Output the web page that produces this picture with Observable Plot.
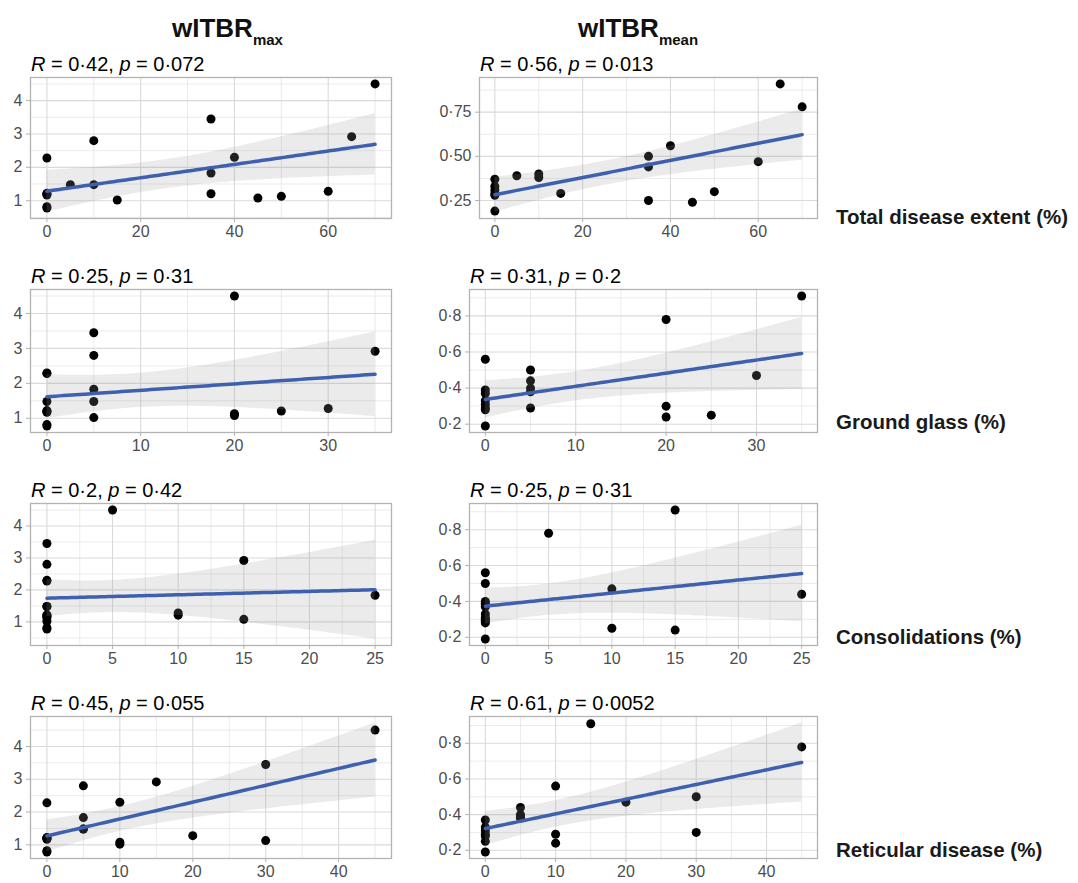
<!DOCTYPE html>
<html><head><meta charset="utf-8">
<script src="https://cdn.jsdelivr.net/npm/d3@7"></script>
<script src="https://cdn.jsdelivr.net/npm/@observablehq/plot@0.6"></script>
<style>
body{margin:0;background:#fff;font-family:"Liberation Sans",Arial,sans-serif;}
#fig{position:relative;width:1078px;height:883px;overflow:hidden;background:#fff;}
#overlay{left:0;top:0;pointer-events:none;}
</style></head><body><div id="fig"></div>
<script>
// ---- data (one entry per patient) ----
const totalExtent    = [70, 65, 60, 50, 45, 40, 35, 35, 35, 15, 10, 10, 5, 0, 0, 0, 0, 0, 0];
const groundGlass    = [20, 35, 30, 20, 20, 0, 5, 5, 25, 5, 5, 5, 0, 0, 0, 0, 0, 0, 0];
const consolidations = [5, 15, 10, 0, 15, 0, 0, 25, 10, 0, 0, 0, 0, 0, 0, 0, 0, 0, 0];
const reticular      = [45, 15, 20, 30, 10, 10, 30, 5, 0, 10, 5, 5, 5, 0, 0, 0, 0, 0, 0];
const wITBRmax  = [4.50, 2.92, 1.28, 1.13, 1.08, 2.30, 3.45, 1.83, 1.21, 1.02, 2.80, 1.48, 1.48, 2.28, 1.22, 1.17, 0.82, 0.78, 1.20];
const wITBRmean = [0.78, 0.91, 0.47, 0.30, 0.24, 0.56, 0.50, 0.44, 0.25, 0.29, 0.40, 0.38, 0.39, 0.37, 0.33, 0.31, 0.28, 0.19, 0.29];

const columnTitles = [["wITBR", "max"], ["wITBR", "mean"]];
const rowLabels = ["Total disease extent (%)", "Ground glass (%)", "Consolidations (%)", "Reticular disease (%)"];
const xTicksByRow = [[0, 20, 40, 60], [0, 10, 20, 30], [0, 5, 10, 15, 20, 25], [0, 10, 20, 30, 40]];
const yTicksMax = [1, 2, 3, 4];
const yTicksMeanTop = [0.25, 0.50, 0.75];
const yTicksMean = [0.2, 0.4, 0.6, 0.8];
const statMax  = [["0·42", "0·072"], ["0·25", "0·31"], ["0·2", "0·42"], ["0·45", "0·055"]];
const statMean = [["0·56", "0·013"], ["0·31", "0·2"], ["0·25", "0·31"], ["0·61", "0·0052"]];

const T975_DF17 = 2.109816; // t quantile for 95% CI, n = 19

// ---- layout ----
const xRows = [totalExtent, groundGlass, consolidations, reticular];
const frameTops = [77, 289, 503, 716];
const frameBottoms = [218, 432, 645, 858];
const colLeft = [[30, 30, 30, 30], [479, 469, 469, 469]];
const colRight = [391, 817];
const ML = 50, MR = 10, MT = 5, MB = 30;

const fig = document.getElementById("fig");

function fit(xs, ys) {
  const n = xs.length, mx = d3.mean(xs), my = d3.mean(ys);
  let sxx = 0, sxy = 0;
  for (let i = 0; i < n; i++) { sxx += (xs[i] - mx) ** 2; sxy += (xs[i] - mx) * (ys[i] - my); }
  const b = sxy / sxx, a = my - b * mx;
  let sse = 0;
  for (let i = 0; i < n; i++) sse += (ys[i] - a - b * xs[i]) ** 2;
  const s = Math.sqrt(sse / (n - 2));
  const [x0, x1] = d3.extent(xs);
  return d3.range(80).map(i => {
    const x = x0 + (x1 - x0) * i / 79, yh = a + b * x;
    const se = s * Math.sqrt(1 / n + (x - mx) ** 2 / sxx);
    return {x, y: yh, lo: yh - T975_DF17 * se, hi: yh + T975_DF17 * se};
  });
}
function expand([a, b]) { const d = (b - a) * 0.05; return [a - d, b + d]; }
function minors(ticks, dom) {
  const step = ticks[1] - ticks[0];
  const out = [];
  for (let v = ticks[0] - step / 2; v <= ticks[ticks.length - 1] + step; v += step) {
    if (v >= dom[0] && v <= dom[1]) out.push(v);
  }
  return out;
}
function fmtFor(ticks) {
  const dec = d3.max(ticks, t => { const s = String(t); return s.includes(".") ? s.split(".")[1].length : 0; });
  return d => d.toFixed(dec).replace(".", "·");
}

for (let c = 0; c < 2; c++) {
  for (let r = 0; r < 4; r++) {
    const xs = xRows[r], ys = c === 0 ? wITBRmax : wITBRmean;
    const pts = xs.map((x, i) => ({x, y: ys[i]}));
    const band = fit(xs, ys);
    const xd = expand(d3.extent(xs));
    const yd = expand([Math.min(d3.min(ys), d3.min(band, d => d.lo)), Math.max(d3.max(ys), d3.max(band, d => d.hi))]);
    const xt = xTicksByRow[r];
    const yt = c === 0 ? yTicksMax : (r === 0 ? yTicksMeanTop : yTicksMean);
    const fl = colLeft[c][r], fr = colRight[c];
    const fw = fr - fl, fh = frameBottoms[r] - frameTops[r];
    const chart = Plot.plot({
      width: fw + ML + MR, height: fh + MT + MB,
      marginLeft: ML, marginRight: MR, marginTop: MT, marginBottom: MB,
      x: {domain: xd, label: null},
      y: {domain: yd, label: null},
      style: {fontSize: "16px", fontFamily: "'Liberation Sans', Arial, sans-serif", background: "transparent", overflow: "visible"},
      marks: [
        Plot.ruleX(minors(xt, xd), {stroke: "#dedede", strokeWidth: 0.6}),
        Plot.ruleY(minors(yt, yd), {stroke: "#dedede", strokeWidth: 0.6}),
        Plot.ruleX(xt, {stroke: "#dadada", strokeWidth: 1.1}),
        Plot.ruleY(yt, {stroke: "#dadada", strokeWidth: 1.1}),
        Plot.dot(pts, {x: "x", y: "y", r: 4.5, fill: "#000", stroke: null}),
        Plot.areaY(band, {x: "x", y1: "lo", y2: "hi", fill: "#999999", fillOpacity: 0.2}),
        Plot.line(band, {x: "x", y: "y", stroke: "#3F60AE", strokeWidth: 3.5}),
        Plot.frame({stroke: "#b3b3b3", strokeWidth: 1.3}),
        Plot.axisX(xt, {tickSize: 4, tickPadding: 3, stroke: "#b3b3b3", fill: "#4d4d4d", fontSize: 16, tickFormat: fmtFor(xt), label: null}),
        Plot.axisY(yt, {tickSize: 4, tickPadding: 4, stroke: "#b3b3b3", fill: "#4d4d4d", fontSize: 16, tickFormat: fmtFor(yt), label: null})
      ]
    });
    chart.style.position = "absolute";
    chart.style.left = (fl - ML) + "px";
    chart.style.top = (frameTops[r] - MT) + "px";
    fig.appendChild(chart);
  }
}

// ---- text overlay ----
const NS = "http://www.w3.org/2000/svg";
const ov = document.createElementNS(NS, "svg");
ov.setAttribute("id", "overlay");
ov.setAttribute("width", 1078); ov.setAttribute("height", 883);
ov.style.position = "absolute";
ov.setAttribute("font-family", "'Liberation Sans', Arial, sans-serif");
fig.appendChild(ov);
function txt(x, y, parts, attrs) {
  const t = document.createElementNS(NS, "text");
  t.setAttribute("x", x); t.setAttribute("y", y);
  for (const k in attrs) t.setAttribute(k, attrs[k]);
  for (const p of parts) {
    const s = document.createElementNS(NS, "tspan");
    s.textContent = p.t;
    for (const k in (p.a || {})) s.setAttribute(k, p.a[k]);
    t.appendChild(s);
  }
  ov.appendChild(t);
}
const headX = [172, 578];
columnTitles.forEach(([main, sub], c) => {
  txt(headX[c], 37, [{t: main}, {t: sub, a: {"font-size": 15, dy: 8}}], {"font-size": 26, "font-weight": "bold", fill: "#111"});
});
for (let c = 0; c < 2; c++) {
  const stats = c === 0 ? statMax : statMean;
  for (let r = 0; r < 4; r++) {
    const [R, p] = stats[r];
    txt(colLeft[c][r] + 1, frameTops[r] - 6, [
      {t: "R", a: {"font-style": "italic"}}, {t: " = " + R + ", "},
      {t: "p", a: {"font-style": "italic"}}, {t: " = " + p}
    ], {"font-size": 20, fill: "#000"});
  }
}
const rowBase = [224, 429, 644, 857];
rowLabels.forEach((l, r) => txt(836, rowBase[r], [{t: l}], {"font-size": 20.5, "font-weight": "bold", fill: "#1a1a1a"}));
</script></body></html>
